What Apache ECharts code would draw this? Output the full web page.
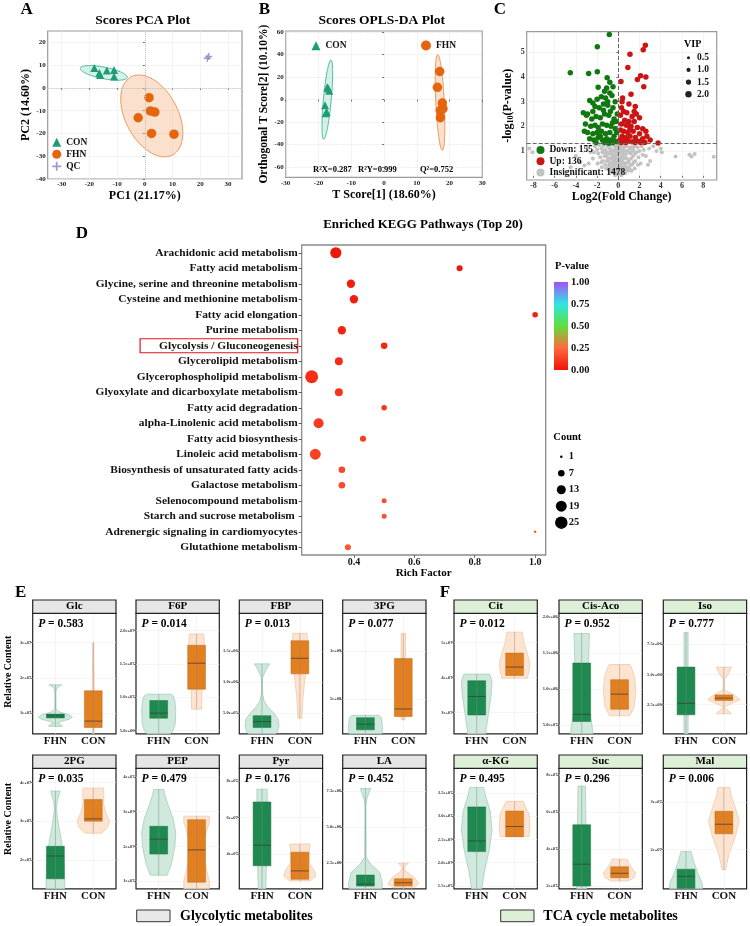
<!DOCTYPE html>
<html><head><meta charset="utf-8">
<script src="https://cdn.jsdelivr.net/npm/echarts@6/dist/echarts.min.js"></script>
<style>html,body{margin:0;padding:0;background:#fff}#c{width:750px;height:926px}</style>
</head><body><div id="c"></div>
<script>
const FONT='"Liberation Serif","Times New Roman",Times,serif';
// ---------- A: PCA ----------
const pcaCON=[[-18.2,8.7],[-16.4,6.5],[-16.1,5.7],[-13.7,7.6],[-11.1,7.9],[-11.1,5.0]];
const pcaFHN=[[1.5,-4.3],[2.0,-10.1],[3.6,-10.6],[-2.4,-13.1],[2.4,-20.0],[10.5,-20.3]];
const pcaQC=[[22.5,13.0],[23.0,13.8]];
const pcaEllCON=[-14.8,6.6,8.45,-2.1,0.6,2.43];
const pcaEllFHN=[2.5,-12.3,6.43,-17.67,9.16,3.33];
const pcaXTicks=[-30,-20,-10,0,10,20,30];
const pcaYTicks=[-40,-30,-20,-10,0,10,20];
// ---------- B: OPLS-DA ----------
const oplsCON=[[-17.3,11],[-17.0,10],[-16.7,8],[-18.0,-5],[-17.5,-11],[-17.8,-12]];
const oplsFHN=[[17,25],[16.3,11],[17.8,-3],[18,-8],[17.2,-9.5],[17.2,-16]];
const oplsEllCON=[-17.3,0,1.1,35.2,1.2,0];
const oplsEllFHN=[17.1,-2.5,-0.7,42.5,1.3,0];
const oplsXTicks=[-30,-20,-10,0,10,20,30];
const oplsYTicks=[-60,-40,-20,0,20,40,60];
// ---------- C: volcano ----------
const volcDown=[[-0.85,5.72],[-1.98,5.22],[-4.53,4.17],[-2.8,4.14],[-1.98,4.21],[-1.05,3.97],[-0.8,3.78],[-1.9,3.58],[-1.1,3.55],[-0.5,3.6],[-1.3,3.42],[-0.8,3.35],[-2.7,3.05],[-2.4,2.95],[-2.0,3.1],[-1.6,3.2],[-1.2,3.15],[-0.6,3.25],[-0.3,3.0],[-2.2,2.8],[-1.8,2.75],[-1.4,2.9],[-1.0,2.85],[-0.5,2.75],[-3.3,2.55],[-3.0,2.45],[-2.9,2.5],[-2.5,2.3],[-2.1,2.4],[-1.7,2.35],[-1.3,2.5],[-0.9,2.45],[-0.4,2.3],[-0.1,2.5],[-3.1,2.1],[-2.6,2.0],[-2.2,2.05],[-1.9,1.95],[-1.5,2.1],[-1.1,2.05],[-0.7,2.0],[-0.3,1.9],[-3.2,1.8],[-2.9,1.75],[-2.4,1.7],[-2.0,1.75],[-1.6,1.8],[-1.2,1.7],[-0.8,1.75],[-0.4,1.6],[-0.15,1.75],[-2.7,1.5],[-2.3,1.45],[-1.9,1.55],[-1.5,1.45],[-1.1,1.5],[-0.7,1.45],[-0.3,1.4],[-2.1,1.35],[-1.3,1.35],[-0.9,1.32],[-0.5,1.35],[-0.1,1.38],[-1.7,1.6],[-0.55,2.15],[-0.2,2.2],[-1.4,2.65],[-0.75,2.6],[-2.4,2.6],[-1.0,3.0]];
const volcUp=[[2.55,5.28],[2.35,5.1],[1.1,4.92],[0.9,4.38],[2.1,4.05],[2.6,4.0],[1.8,3.9],[0.25,3.82],[2.4,3.6],[1.2,3.3],[0.4,3.15],[0.35,3.0],[1.0,2.9],[1.6,2.8],[0.3,2.75],[1.5,2.6],[0.8,2.55],[0.2,2.45],[1.3,2.4],[2.0,2.35],[0.6,2.25],[1.0,2.2],[1.5,2.2],[0.3,2.1],[0.75,2.05],[1.2,2.0],[1.8,1.95],[2.3,1.9],[2.6,1.8],[0.2,1.85],[0.5,1.8],[0.9,1.75],[1.4,1.8],[2.0,1.7],[2.7,1.6],[0.35,1.6],[0.7,1.55],[1.1,1.6],[1.6,1.55],[2.3,1.5],[3.0,1.45],[0.15,1.45],[0.5,1.4],[0.9,1.42],[1.3,1.38],[1.9,1.4],[2.5,1.35],[3.75,1.33],[0.25,1.35],[0.7,1.35],[1.6,1.35],[2.1,1.35],[1.1,1.9],[1.7,2.5],[0.5,2.6]];
const volcNS=[[-8.4,1.1],[-8.1,0.95],[-4.5,0.35],[-4.0,0.8],[-3.6,0.55],[-3.2,0.42],[-2.8,0.5],[-2.6,0.95],[-2.9,1.15],[3.3,1.2],[3.6,1.0],[4.0,1.1],[4.1,0.95],[5.4,0.78],[6.7,0.85],[6.9,0.78],[7.2,0.88],[9.0,0.77],[3.0,0.6],[2.8,0.45],[2.6,0.8],[2.9,1.1],
[-2.2,1.2],[-2.0,1.05],[-1.8,1.25],[-1.9,0.9],[-1.6,1.1],[-1.7,0.75],[-1.5,0.95],[-1.4,1.22],[-1.3,0.8],[-1.2,1.05],[-1.1,0.6],[-1.0,1.2],[-0.9,0.9],[-0.85,0.45],[-0.8,1.1],[-0.7,0.7],[-0.65,0.3],[-0.6,1.0],[-0.55,0.55],[-0.5,1.25],[-0.45,0.2],[-0.4,0.85],[-0.35,0.4],[-0.3,1.1],[-0.25,0.65],[-0.2,0.1],[-0.15,0.95],[-0.1,0.35],[-0.05,0.75],[0,0.05],[0.05,1.2],[0.1,0.5],[0.15,0.9],[0.2,0.2],[0.25,1.05],[0.3,0.6],[0.35,0.3],[0.4,0.95],[0.45,0.15],[0.5,0.7],[0.55,1.15],[0.6,0.4],[0.7,0.85],[0.75,0.25],[0.8,1.2],[0.9,0.55],[1.0,0.95],[1.05,0.3],[1.1,1.1],[1.2,0.7],[1.3,0.45],[1.35,1.0],[1.4,0.8],[1.5,1.2],[1.6,0.6],[1.7,0.95],[1.8,1.15],[1.9,0.75],[2.0,1.0],[2.1,0.5],[2.2,1.2],[2.3,0.85],[2.4,1.05],[-2.4,0.7],[-2.3,0.95],[-1.95,0.5],[-1.55,0.35],[-1.25,0.45],[-0.95,0.25],[-0.75,0.15],[-0.3,0.02],[0.1,0.12],[0.3,0.02],[0.65,0.1],[0.95,0.2],[1.25,0.2],[1.55,0.3],[1.85,0.45],[-0.15,0.5],[0.05,0.6],[-0.5,0.8],[0.45,0.55],[-0.25,1.2],[0.25,0.75],[-0.7,1.05],[0.85,1.0],[-1.1,0.95],[1.15,0.9],[-0.05,0.3],[0.15,0.3],[-0.35,0.1],[0.5,0.35],[0.6,0.85],[-0.9,0.6],[-1.45,0.6],[1.45,0.55],[-0.6,1.25],[0.35,1.25],[-0.1,1.15],[0.75,1.25],
[-0.2,0.8],[0.0,0.9],[0.2,1.0],[-0.4,1.0],[0.4,0.8],[-0.6,0.85],[0.6,1.0],[-0.8,0.95],[0.8,0.7],[-1.0,0.75],[1.0,0.6],[-0.3,0.55],[0.3,0.45],[-0.1,0.6],[0.1,0.7],[-0.5,0.4],[0.5,0.2],[-0.2,0.25],[0.2,0.4],[0.0,0.2],[-0.7,0.5],[0.7,0.5],[-1.2,0.85],[1.2,1.15],[-1.4,1.0],[1.4,1.05],[-1.6,0.55],[1.6,0.9],[-0.05,1.05],[0.15,1.15],[-0.45,0.65],[0.45,1.05],[0.9,0.35],[-0.9,0.4],[1.15,0.45],[-1.15,0.3],[0.05,0.4],[-0.15,0.15],[0.25,0.55],[-0.35,0.75]];
const volcXTicks=[-8,-6,-4,-2,0,2,4,6,8];
const volcYTicks=[1,2,3,4,5];
const volcPThresh=1.301;
const vipLevels=[0.5,1.0,1.5,2.0];
// ---------- D: KEGG ----------
const keggPathways=['Arachidonic acid metabolism','Fatty acid metabolism','Glycine, serine and threonine metabolism','Cysteine and methionine metabolism','Fatty acid elongation','Purine metabolism','Glycolysis / Gluconeogenesis','Glycerolipid metabolism','Glycerophospholipid metabolism','Glyoxylate and dicarboxylate metabolism','Fatty acid degradation','alpha-Linolenic acid metabolism','Fatty acid biosynthesis','Linoleic acid metabolism','Biosynthesis of unsaturated fatty acids','Galactose metabolism','Selenocompound metabolism','Starch and sucrose metabolism ','Adrenergic signaling in cardiomyocytes','Glutathione metabolism'];
const keggRich=[0.34,0.75,0.39,0.40,1.0,0.36,0.50,0.35,0.26,0.35,0.50,0.283,0.43,0.272,0.36,0.36,0.50,0.50,1.0,0.38];
const keggCount=[20,6,11,11,5,11,7,10,27,10,5,16,6,19,7,7,4,4,1,6];
const keggP=[0.01,0.02,0.03,0.035,0.04,0.05,0.06,0.07,0.08,0.09,0.1,0.11,0.12,0.13,0.15,0.16,0.17,0.18,0.19,0.2];
const keggHighlight='Glycolysis / Gluconeogenesis';
const keggXTicks=[0.4,0.6,0.8,1.0];
const pTicks=[0,0.25,0.5,0.75,1.0];
const countLegend=[1,7,13,19,25];
const pColors=['#f01208','#ff6a3c','#5fe03c','#2ee6e6','#a550f5'];
// ---------- E/F: violins ----------
const panelNames=['Glc','F6P','FBP','3PG','2PG','PEP','Pyr','LA','Cit','Cis-Aco','Iso','α-KG','Suc','Mal'];
const panelP=['0.583','0.014','0.013','0.077','0.035','0.479','0.176','0.452','0.012','0.952','0.777','0.495','0.296','0.006'];
const panelYRange=[[4.1e6,3.83e7],[4.5e6,2.26e7],[1.7e5,2.1e6],[1.38e8,1.39e9],[1.25e7,4.37e7],[7.8e6,4.25e7],[2.1e7,8.69e7],[6.7e5,9.08e6],[2.39e7,5.84e7],[3.8e7,2.05e8],[7.5e4,1.006e7],[1.44e7,4.03e7],[1.85e7,8.36e7],[1.18e7,3.7e7]];
const panelTicks=[[1e7,2e7,3e7],[5e6,1e7,1.5e7,2e7],[5e5,1e6,1.5e6],[5e8,1e9],[2e7,3e7,4e7],[1e7,2e7,3e7,4e7],[4e7,6e7,8e7],[2.5e6,5e6,7.5e6],[3e7,4e7,5e7],[5e7,1e8,1.5e8,2e8],[2.5e6,5e6,7.5e6],[1.5e7,2e7,2.5e7,3e7,3.5e7],[2e7,4e7,6e7,8e7],[2e7,3e7]];
const panelTickLabels=[['1e+07','2e+07','3e+07'],['5.0e+06','1.0e+07','1.5e+07','2.0e+07'],['5.0e+05','1.0e+06','1.5e+06'],['5e+08','1e+09'],['2e+07','3e+07','4e+07'],['1e+07','2e+07','3e+07','4e+07'],['4e+07','6e+07','8e+07'],['2.5e+06','5.0e+06','7.5e+06'],['3e+07','4e+07','5e+07'],['5.0e+07','1.0e+08','1.5e+08','2.0e+08'],['2.5e+06','5.0e+06','7.5e+06'],['1.5e+07','2.0e+07','2.5e+07','3.0e+07','3.5e+07'],['2e+07','4e+07','6e+07','8e+07'],['2e+07','3e+07']];
const groupNames=['FHN','CON'];
const boxFHN=[[8.6e6,9.2e6,9.7e6],[6.85e6,7.6e6,9.5e6],[2.7e5,3.66e5,4.6e5],[1.79e8,2.38e8,3.06e8],[1.51e7,2.1e7,2.35e7],[1.78e7,2.21e7,2.58e7],[3.36e7,4.48e7,6.85e7],[8.6e5,1.0e6,1.63e6],[2.93e7,3.46e7,3.91e7],[5.5e7,6.5e7,1.36e8],[1.65e6,2.6e6,5.6e6],[2.24e7,2.47e7,3.2e7],[2.0e7,3.18e7,5.31e7],[1.1e7,1.44e7,1.59e7]];
const boxCON=[[5.9e6,7.7e6,1.63e7],[1.12e7,1.51e7,1.78e7],[1.13e6,1.38e6,1.66e6],[3.17e8,3.96e8,9.2e8],[3.0e7,3.06e7,3.56e7],[9.7e6,1.9e7,2.77e7],[2.62e7,3.08e7,4.1e7],[8.6e5,1.09e6,1.37e6],[4.06e7,4.3e7,4.7e7],[7.2e7,9.3e7,1.13e8],[2.83e6,3.03e6,3.3e6],[2.56e7,2.78e7,3.11e7],[2.45e7,2.69e7,3.04e7],[2.33e7,2.53e7,2.8e7]];
const violinFHN=[
 [[6.2e6,0.4],[6.6e6,0.35],[7.1e6,0.1],[7.6e6,0.35],[8.3e6,0.85],[8.9e6,1],[9.5e6,0.8],[1.02e7,0.3],[1.1e7,0.04],[1.6e7,0.03],[1.72e7,0.1],[1.8e7,0.38]],
 [[4.0e6,0.5],[5.0e6,0.85],[6.0e6,0.97],[8.0e6,1.0],[9.5e6,0.95],[1.02e7,0.85],[1.045e7,0.72]],
 [[1.0e5,0.6],[2.0e5,0.9],[3.0e5,1.0],[4.0e5,0.95],[5.0e5,0.7],[6.0e5,0.35],[7.0e5,0.12],[8.0e5,0.04],[1.0e6,0.02],[1.07e6,0.03],[1.2e6,0.25],[1.29e6,0.45]],
 [[1.0e8,0.95],[2.0e8,1.0],[3.0e8,0.95],[3.3e8,0.8]],
 [[1.0e7,0.55],[1.5e7,0.55],[2.0e7,0.5],[2.5e7,0.35],[3.0e7,0.15],[3.3e7,0.06],[3.5e7,0.1],[3.78e7,0.28]],
 [[1.17e7,0.5],[1.5e7,0.75],[2.0e7,0.95],[2.4e7,1.0],[2.8e7,0.85],[3.2e7,0.55],[3.5e7,0.35],[3.64e7,0.3]],
 [[1.5e7,0.2],[3.0e7,0.25],[5.0e7,0.3],[7.55e7,0.3]],
 [[0,0.9],[1.0e6,1.0],[1.8e6,0.85],[2.4e6,0.3],[2.9e6,0.04],[6.5e6,0.03],[7.0e6,0.1],[7.67e6,0.3]],
 [[2.0e7,0.5],[2.5e7,0.55],[3.0e7,0.7],[3.5e7,0.85],[3.9e7,0.9],[4.1e7,0.75]],
 [[3.0e7,0.7],[5e7,0.6],[8e7,0.4],[1.0e8,0.3],[1.3e8,0.4],[1.77e8,0.45]],
 [[-5e5,0.12],[3e6,0.13],[6e6,0.12],[8.46e6,0.12]],
 [[1.2e7,0.2],[1.8e7,0.45],[2.3e7,0.75],[2.7e7,0.9],[3.1e7,0.8],[3.4e7,0.55],[3.62e7,0.4]],
 [[1.5e7,0.3],[3e7,0.28],[5e7,0.25],[7.4e7,0.22]],
 [[1.0e7,1.0],[1.3e7,0.95],[1.5e7,0.7],[1.75e7,0.45],[1.96e7,0.3]]];
const violinCON=[
 [[3.0e6,0.05],[1.0e7,0.06],[2.0e7,0.05],[3.0e7,0.03]],
 [[8.2e6,0.3],[1.0e7,0.3],[1.2e7,0.35],[1.45e7,0.45],[1.7e7,0.48],[1.85e7,0.45],[1.95e7,0.42]],
 [[4.2e5,0.12],[6e5,0.15],[8e5,0.2],[1.0e6,0.28],[1.2e6,0.38],[1.4e6,0.45],[1.6e6,0.45],[1.78e6,0.42]],
 [[2.83e8,0.1],[3.3e8,0.13],[4.5e8,0.05],[6e8,0.03],[8e8,0.08],[9.5e8,0.13],[1.18e9,0.13]],
 [[2.69e7,0.5],[2.85e7,0.85],[3.0e7,0.95],[3.2e7,0.75],[3.45e7,0.6],[3.7e7,0.62],[3.86e7,0.6]],
 [[6e6,0.75],[1.0e7,0.75],[1.4e7,0.55],[1.9e7,0.3],[2.3e7,0.5],[2.7e7,0.75],[2.87e7,0.75]],
 [[2.53e7,0.6],[2.8e7,0.95],[3.1e7,0.85],[3.5e7,0.55],[4.2e7,0.55],[4.55e7,0.6]],
 [[7.4e5,0.6],[1.0e6,0.9],[1.4e6,0.7],[1.9e6,0.15],[2.15e6,0.05],[2.46e6,0.3]],
 [[3.98e7,0.75],[4.2e7,0.85],[4.4e7,0.9],[4.7e7,0.75],[5.0e7,0.55],[5.3e7,0.45]],
 [[6.3e7,0.6],[7.5e7,0.85],[9.5e7,0.95],[1.15e8,0.9],[1.3e8,0.7],[1.34e8,0.6]],
 [[1.73e6,0.45],[2.0e6,0.25],[2.3e6,0.02],[2.6e6,0.5],[2.9e6,0.95],[3.3e6,0.6],[3.7e6,0.05],[4.6e6,0.02],[5.0e6,0.25],[5.6e6,0.45]],
 [[2.56e7,0.85],[2.8e7,0.9],[3.05e7,0.85],[3.2e7,0.65],[3.32e7,0.5]],
 [[2.27e7,0.5],[2.45e7,0.85],[2.7e7,0.95],[3.0e7,0.7],[3.3e7,0.5],[3.45e7,0.45]],
 [[1.58e7,0.1],[1.9e7,0.3],[2.3e7,0.7],[2.6e7,0.9],[2.9e7,0.65],[3.1e7,0.45],[3.3e7,0.35]]];

// ================= build =================
const grids=[],xAxes=[],yAxes=[],series=[],G=[];
function addGrid(g,xa,ya){const i=grids.length;grids.push(Object.assign({show:true,containLabel:false,backgroundColor:'transparent'},g));xa.gridIndex=i;ya.gridIndex=i;xAxes.push(xa);yAxes.push(ya);return i;}
function txt(x,y,text,size,o){o=o||{};G.push({type:'text',x:x,y:y,rotation:o.rot||0,silent:true,z:100,style:{text:text,fill:o.color||'#000',font:(o.weight||'bold')+' '+size+'px '+FONT,fontSize:size,fontWeight:o.weight||'bold',fontFamily:FONT,textAlign:o.align||'center',textVerticalAlign:'middle',align:o.align||'center',verticalAlign:'middle',rich:o.rich}});}
function vAxis(min,max,ticks,o){o=o||{};
 return {type:'value',min:min,max:max,name:o.name||'',nameLocation:'middle',nameGap:o.nameGap||10,
  nameTextStyle:Object.assign({fontFamily:FONT,fontWeight:'bold',fontSize:o.nameSize||11,color:'#000'},o.nameStyle||{}),
  axisLine:{show:false},
  axisTick:{show:o.tick!==false,customValues:ticks,length:o.tickLen||2,lineStyle:{color:o.tickColor||'#555',width:0.8}},
  axisLabel:{show:o.label!==false,customValues:ticks,fontFamily:FONT,fontWeight:o.labelWeight||'bold',fontSize:o.labelSize||7,color:o.labelColor||'#222',margin:o.margin==null?2:o.margin,formatter:o.fmt},
  splitLine:{show:o.split!==false,lineStyle:{color:o.splitColor||'#ececec',width:o.splitWidth||0.6,type:o.splitType||'solid'}}};}
function ellSeries(gi,e,fill,stroke){
 return {type:'custom',xAxisIndex:gi,yAxisIndex:gi,silent:true,clip:true,z:1,data:[e],
  renderItem:function(p,api){const v=[0,1,2,3,4,5].map(k=>api.value(k));const pts=[];
   for(let k=0;k<=80;k++){const t=k/80*2*Math.PI;pts.push(api.coord([v[0]+v[2]*Math.cos(t)+v[4]*Math.sin(t),v[1]+v[3]*Math.cos(t)+v[5]*Math.sin(t)]));}
   return {type:'polygon',shape:{points:pts},style:{fill:fill,stroke:stroke,lineWidth:1}};}};}
const plusPath='path://M4,0 L6,0 L6,4 L10,4 L10,6 L6,6 L6,10 L4,10 L4,6 L0,6 L0,4 L4,4 Z';
const cCON='#1f9c77', cFHN='#e4650e';

// ---- A ----
const gA=addGrid({left:47.7,top:31,width:194.3,height:148,borderColor:'#9a9a9a',borderWidth:1.2},
 vAxis(-35,35,pcaXTicks,{name:'PC1 (21.17%)',nameGap:11,nameSize:12}),
 vAxis(-40,25,pcaYTicks,{name:'PC2 (14.60%)',nameGap:16,nameSize:12}));
series.push(ellSeries(gA,pcaEllCON,'rgba(70,190,155,0.22)','#4fbc9b'));
series.push(ellSeries(gA,pcaEllFHN,'rgba(240,160,100,0.32)','#ec9a5e'));
series.push({type:'scatter',name:'CON',xAxisIndex:gA,yAxisIndex:gA,data:pcaCON,symbol:'triangle',symbolSize:8,itemStyle:{color:cCON,opacity:1},z:3,
 markLine:{silent:true,symbol:'none',label:{show:false},lineStyle:{color:'#c4c4c4',type:'dotted',width:1},data:[{xAxis:0},{yAxis:0}]}});
series.push({type:'scatter',name:'FHN',xAxisIndex:gA,yAxisIndex:gA,data:pcaFHN,symbol:'circle',symbolSize:9.5,itemStyle:{color:cFHN,opacity:1},z:3});
series.push({type:'scatter',name:'QC',xAxisIndex:gA,yAxisIndex:gA,data:pcaQC,symbol:plusPath,symbolSize:7,itemStyle:{color:'#8e87c8',opacity:0.85},z:3});

// ---- B ----
const gB=addGrid({left:285.7,top:31,width:196.6,height:146.3,borderColor:'#9a9a9a',borderWidth:1.2},
 vAxis(-30,30,oplsXTicks,{name:'T Score[1] (18.60%)',nameGap:12,nameSize:12,split:true,splitType:'dotted',splitColor:'#d8d8d8'}),
 vAxis(-69,61,oplsYTicks,{name:'Orthogonal T Score[2] (10.10%)',nameGap:15,nameSize:11.5,splitType:'dotted',splitColor:'#d8d8d8'}));
series.push(ellSeries(gB,oplsEllCON,'rgba(70,190,155,0.22)','#4fbc9b'));
series.push(ellSeries(gB,oplsEllFHN,'rgba(240,160,100,0.32)','#ec9a5e'));
series.push({type:'scatter',name:'CON',xAxisIndex:gB,yAxisIndex:gB,data:oplsCON,symbol:'triangle',symbolSize:8,itemStyle:{color:cCON,opacity:1},z:3});
series.push({type:'scatter',name:'FHN',xAxisIndex:gB,yAxisIndex:gB,data:oplsFHN,symbol:'circle',symbolSize:9.5,itemStyle:{color:cFHN,opacity:1},z:3});

// ---- C ----
const gC=addGrid({left:526.7,top:31.7,width:190,height:148.3,borderColor:'#9a9a9a',borderWidth:1.2},
 vAxis(-8.64,9.28,volcXTicks,{name:'Log2(Fold Change)',nameGap:11,nameSize:12,labelSize:8,labelColor:'#333'}),
 vAxis(-0.17,5.83,volcYTicks,{name:'-log{s|10}(P-value)',nameGap:12,nameSize:12,labelSize:8,labelColor:'#333',
   nameStyle:{rich:{s:{fontSize:8,fontWeight:'bold',fontFamily:FONT,verticalAlign:'bottom',padding:[5,0,0,0]}}}}));
series.push({type:'scatter',name:'Insignificant: 1478',xAxisIndex:gC,yAxisIndex:gC,data:volcNS,symbolSize:4,itemStyle:{color:'#c2c2c2',opacity:1},z:2,
 markLine:{silent:true,symbol:'none',label:{show:false},lineStyle:{color:'#666',type:'dashed',width:1},data:[{xAxis:0},{yAxis:volcPThresh}]}});
series.push({type:'scatter',name:'Down: 155',xAxisIndex:gC,yAxisIndex:gC,data:volcDown,symbolSize:5.5,itemStyle:{color:'#11780f',opacity:1},z:3});
series.push({type:'scatter',name:'Up: 136',xAxisIndex:gC,yAxisIndex:gC,data:volcUp,symbolSize:5.5,itemStyle:{color:'#cc1414',opacity:1},z:3});
// VIP legend
const vipSize=v=>2+2.2*v;
const gVip=addGrid({left:688,top:57.7,width:1,height:36.6,show:false},
 {type:'value',min:-1,max:1,show:false},
 {type:'category',inverse:true,boundaryGap:false,data:vipLevels.map(v=>v.toFixed(1)),position:'right',axisLine:{show:false},axisTick:{show:false},
  axisLabel:{interval:0,margin:8,fontFamily:FONT,fontWeight:'bold',fontSize:9.5,color:'#111'}});
series.push({type:'scatter',xAxisIndex:gVip,yAxisIndex:gVip,data:vipLevels.map((v,i)=>[0,i]),symbolSize:(val,p)=>vipSize(vipLevels[p.dataIndex]),itemStyle:{color:'#222',opacity:1},silent:true});

// ---- D ----
const keggSize=c=>2.5*Math.sqrt(c);
const gD=addGrid({left:301.7,top:245,width:244,height:310,borderColor:'#8a8a8a',borderWidth:1.3},
 vAxis(0.227,1.035,keggXTicks,{name:'Rich Factor',nameGap:13,nameSize:11,labelSize:10,split:false,tickLen:3,fmt:v=>v.toFixed(1),labelColor:'#111'}),
 {type:'category',data:keggPathways,inverse:true,boundaryGap:true,axisLine:{show:false},
  axisTick:{show:true,alignWithLabel:true,length:3,lineStyle:{color:'#555'}},
  axisLabel:{margin:4,interval:0,fontFamily:FONT,fontWeight:'bold',fontSize:11.4,color:'#111',
   formatter:v=>v===keggHighlight?'{hl|'+v+'}':v,
   rich:{hl:{fontFamily:FONT,fontWeight:'bold',fontSize:11.4,color:'#111',borderColor:'#e3161b',borderWidth:1.2,padding:[2,0,1,19]}}},
  splitLine:{show:false}});
const keggSeriesIndex=series.length;
series.push({type:'scatter',name:'KEGG',xAxisIndex:gD,yAxisIndex:gD,
 data:keggPathways.map((n,i)=>[keggRich[i],i,keggP[i],keggCount[i]]),
 symbolSize:v=>keggSize(v[3]),itemStyle:{opacity:1},z:3});
// colorbar
const gBar=addGrid({left:554,top:282,width:14,height:88,show:false},
 {type:'category',data:[''],show:false},
 {type:'value',min:0,max:1,position:'right',axisLine:{show:false},axisTick:{show:false},splitLine:{show:false},
  axisLabel:{customValues:pTicks,margin:3,fontFamily:FONT,fontWeight:'bold',fontSize:10.5,color:'#111',formatter:v=>v.toFixed(2)}});
series.push({type:'bar',xAxisIndex:gBar,yAxisIndex:gBar,data:[1],barWidth:'100%',silent:true,
 itemStyle:{color:new echarts.graphic.LinearGradient(0,1,0,0,pColors.map((c,i)=>({offset:i/(pColors.length-1),color:c})))}});
// count legend
const gCnt=addGrid({left:560.8,top:456.7,width:1,height:66,show:false},
 {type:'value',min:-1,max:1,show:false},
 {type:'category',inverse:true,boundaryGap:false,data:countLegend.map(String),position:'right',axisLine:{show:false},axisTick:{show:false},
  axisLabel:{interval:0,margin:7,fontFamily:FONT,fontWeight:'bold',fontSize:10.5,color:'#111'}});
series.push({type:'scatter',xAxisIndex:gCnt,yAxisIndex:gCnt,data:countLegend.map((c,i)=>[0,i]),symbolSize:(val,p)=>keggSize(countLegend[p.dataIndex]),itemStyle:{color:'#000',opacity:1},silent:true});

// ---- E/F ----
const colsE=[32.7,136,239.3,342.7], colsF=[454,559,663.3], rowTops=[613.3,768.3];
const PW=83.3, PH=120.5, HH=13.3;
const COL=[{vf:'#cfe9dc',vs:'#9fcab5',bf:'#1f8a50',bs:'#1a7040',cl:'#6f8f80'},{vf:'#fde4d0',vs:'#edc5a5',bf:'#e27f20',bs:'#b9691f',cl:'#a08070'}];
panelNames.forEach((nm,i)=>{
 let left,top,isE=i<8;
 if(isE){left=colsE[i%4];top=rowTops[Math.floor(i/4)];}else{const j=i-8;left=colsF[j%3];top=rowTops[Math.floor(j/3)];}
 const ticks=panelTicks[i], labs=panelTickLabels[i];
 const gi=addGrid({left:left,top:top,width:PW,height:PH,borderColor:'#222',borderWidth:1.2},
  vAxis(0.4,2.6,[1,2],{labelSize:11,margin:2,tick:false,fmt:v=>groupNames[Math.round(v)-1],labelColor:'#111',splitColor:'#eeeeee'}),
  vAxis(panelYRange[i][0],panelYRange[i][1],ticks,{labelSize:4.5,margin:1.5,tickLen:2,labelColor:'#333',splitColor:'#eeeeee',
   fmt:v=>{for(let k=0;k<ticks.length;k++){if(Math.abs(ticks[k]-v)<=Math.abs(v)*1e-6+1e-9)return labs[k];}return '';}}));
 series.push({type:'custom',xAxisIndex:gi,yAxisIndex:gi,clip:true,silent:true,z:3,data:[[1],[2]],
  renderItem:function(params,api){
   const g=api.value(0), k=g-1;
   const prof=(k===0?violinFHN:violinCON)[i], box=(k===0?boxFHN:boxCON)[i], c=COL[k];
   const hw=0.45,bw=0.235;
   const L=prof.map(p=>api.coord([g-p[1]*hw,p[0]]));
   const R=prof.slice().reverse().map(p=>api.coord([g+p[1]*hw,p[0]]));
   const a=api.coord([g-bw,box[2]]), b=api.coord([g+bw,box[0]]);
   const m1=api.coord([g-bw,box[1]]), m2=api.coord([g+bw,box[1]]);
   const c1=api.coord([g,prof[0][0]]), c2=api.coord([g,prof[prof.length-1][0]]);
   return {type:'group',children:[
    {type:'polygon',shape:{points:L.concat(R)},style:{fill:c.vf,stroke:c.vs,lineWidth:0.7}},
    {type:'rect',shape:{x:a[0],y:a[1],width:b[0]-a[0],height:b[1]-a[1]},style:{fill:c.bf,stroke:c.bs,lineWidth:0.5}},
    {type:'line',shape:{x1:c1[0],y1:c1[1],x2:c2[0],y2:c2[1]},style:{stroke:c.cl,lineWidth:0.6,opacity:0.8}},
    {type:'line',shape:{x1:m1[0],y1:m1[1],x2:m2[0],y2:m2[1]},style:{stroke:'#3a3a3a',lineWidth:0.7}}]};
  }});
 G.push({type:'rect',shape:{x:left,y:top-HH,width:PW,height:HH},style:{fill:isE?'#e6e6e6':'#ddefd6',stroke:'#222',lineWidth:1.2},silent:true,z:99});
 txt(left+PW/2,top-HH/2,nm,11);
 txt(left+5.5,top+11,'{i|P} = '+panelP[i],11.5,{align:'left',rich:{i:{fontStyle:'italic',fontWeight:'bold',fontSize:11.5,fontFamily:FONT}}});
});

// ---- texts ----
txt(26.7,10,'A',17); txt(264.3,9.3,'B',17); txt(500,10,'C',17); txt(82,234,'D',17); txt(20.7,593,'E',17); txt(445,592.7,'F',17);
txt(142.7,20.7,'Scores PCA Plot',13.5); txt(381.7,20.7,'Scores OPLS-DA Plot',13.5);
txt(423,225,'Enriched KEGG Pathways (Top 20)',13);
txt(692.7,44.3,'VIP',10); txt(572,266.7,'P-value',10.5); txt(567.3,437.3,'Count',10.5);
txt(8,671.7,'Relative Content',10,{rot:Math.PI/2}); txt(8,819,'Relative Content',10,{rot:Math.PI/2});
txt(313,170,'R\u00b2X=0.287',8.5,{align:'left'}); txt(358,170,'R\u00b2Y=0.999',8.5,{align:'left'}); txt(420,170,'Q\u00b2=0.752',8.5,{align:'left'});
G.push({type:'rect',shape:{x:136.7,y:910,width:33.3,height:11.7},style:{fill:'#e8e8e8',stroke:'#333',lineWidth:1},silent:true});
txt(180,916,'Glycolytic metabolites',14,{align:'left'});
G.push({type:'rect',shape:{x:500.7,y:910,width:33.3,height:11.7},style:{fill:'#ddefd6',stroke:'#333',lineWidth:1},silent:true});
txt(543.3,916,'TCA cycle metabolites',14,{align:'left'});

const legText={fontFamily:FONT,fontWeight:'bold',fontSize:9.5,color:'#111'};
const option={
 animation:false,backgroundColor:'#fff',
 grid:grids,xAxis:xAxes,yAxis:yAxes,series:series,
 graphic:{elements:G},
 visualMap:[{show:false,type:'continuous',seriesIndex:keggSeriesIndex,dimension:2,min:0,max:1,inRange:{color:pColors}}],
 legend:[
  {orient:'vertical',left:52.2,top:137.3,padding:0,itemGap:2,itemWidth:9,itemHeight:9,textStyle:legText,selectedMode:false,
   data:[{name:'CON',icon:'triangle'},{name:'FHN',icon:'circle'},{name:'QC',icon:plusPath}]},
  {left:311.5,top:40.8,padding:0,itemWidth:9,itemHeight:9,textStyle:legText,selectedMode:false,data:[{name:'CON',icon:'triangle'}]},
  {left:421,top:40.5,padding:0,itemWidth:10,itemHeight:10,textStyle:legText,selectedMode:false,data:[{name:'FHN',icon:'circle'}]},
  {orient:'vertical',left:536.5,top:145,padding:0,itemGap:1.2,itemWidth:8,itemHeight:8,textStyle:legText,selectedMode:false,icon:'circle',
   data:['Down: 155','Up: 136','Insignificant: 1478']}
 ]
};
const chart=echarts.init(document.getElementById('c'),null,{renderer:'canvas',width:750,height:926});
chart.setOption(option);
</script></body></html>
